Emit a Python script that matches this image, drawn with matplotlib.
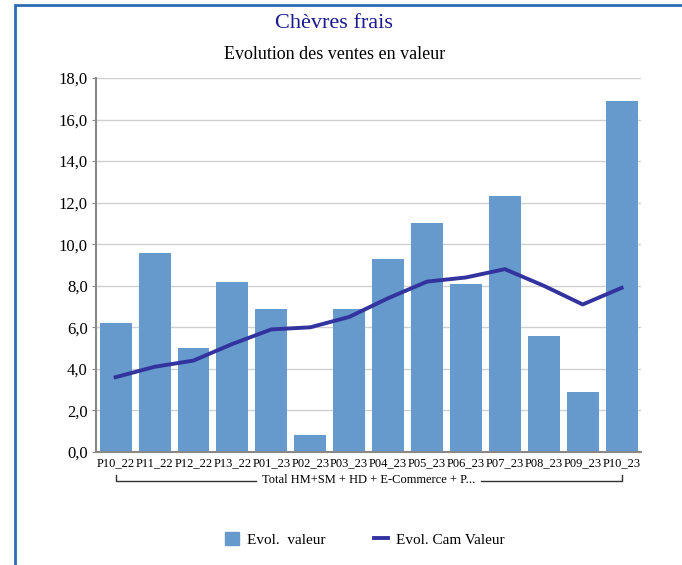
import matplotlib.pyplot as plt
from matplotlib.patches import Rectangle
from matplotlib.lines import Line2D
import numpy as np

plt.rcParams['font.family'] = ['Liberation Serif', 'DejaVu Serif']

# Data
periods = ['P10_22', 'P11_22', 'P12_22', 'P13_22', 'P01_23', 'P02_23', 'P03_23',
           'P04_23', 'P05_23', 'P06_23', 'P07_23', 'P08_23', 'P09_23', 'P10_23']
evol_valeur = [6.2, 9.6, 5.0, 8.2, 6.9, 0.8, 6.9, 9.3, 11.0, 8.1, 12.3, 5.6, 2.9, 16.9]
evol_cam = [3.6, 4.1, 4.4, 5.2, 5.9, 6.0, 6.5, 7.4, 8.2, 8.4, 8.8, 8.0, 7.1, 7.9]
group_label = 'Total HM+SM + HD + E-Commerce + P...'

bar_color = '#6699CC'
line_color = '#3333A0'

fig = plt.figure(figsize=(6.82, 5.65), dpi=100)
ax = fig.add_axes([0.141, 0.2, 0.799, 0.662])

x = np.arange(len(periods))
ax.bar(x, evol_valeur, width=0.82, color=bar_color, zorder=2)
ax.plot(x, evol_cam, color=line_color, linewidth=2.8, zorder=3)

ax.set_xlim(-0.5, len(periods) - 0.5)
ax.set_ylim(0, 18)
ax.set_yticks(np.arange(0, 18.1, 2))
ax.set_yticklabels([f'{v:.1f}'.replace('.', ',') for v in np.arange(0, 18.1, 2)],
                   fontsize=12)
ax.set_xticks(x)
ax.set_xticklabels(periods, fontsize=9)
ax.tick_params(axis='x', length=0, pad=4)
ax.tick_params(axis='y', length=3, color='#888888', pad=3)
ax.grid(axis='y', color='#d0d0d0', linewidth=1, zorder=0)
for s in ['top', 'right']:
    ax.spines[s].set_visible(False)
ax.spines['left'].set_color('#888888')
ax.spines['bottom'].set_color('#888888')
ax.spines['left'].set_linewidth(1.5)
ax.spines['bottom'].set_linewidth(1.5)

# category bracket under the tick labels
trans = ax.get_xaxis_transform()
yb, yt = -0.078, -0.062
x0, x1 = 0, len(periods) - 1
xm = (x0 + x1) / 2
gap = 2.9
ax.add_line(Line2D([x0, x0, xm - gap], [yt, yb, yb], transform=trans,
                   color='#333333', linewidth=1, clip_on=False))
ax.add_line(Line2D([xm + gap, x1, x1], [yb, yb, yt], transform=trans,
                   color='#333333', linewidth=1, clip_on=False))
ax.text(xm, yb + 0.002, group_label, transform=trans, ha='center', va='center',
        fontsize=9)

fig.text(0.49, 0.958, 'Chèvres frais', ha='center', va='center', fontsize=16,
         color='#1a1a8c')
fig.text(0.49, 0.904, 'Evolution des ventes en valeur', ha='center', va='center',
         fontsize=13, color='black')

handles = [Rectangle((0, 0), 1, 1, color=bar_color),
           Line2D([0], [0], color=line_color, linewidth=2.8)]
fig.legend(handles, ['Evol.  valeur', 'Evol. Cam Valeur'], loc='center',
           bbox_to_anchor=(0.535, 0.045), ncol=2, frameon=False, fontsize=11,
           handlelength=0.9, handleheight=0.9, columnspacing=3.2, handletextpad=0.5)

# blue frame (top and left edges visible)
fig.add_artist(Rectangle((15 / 682, -0.1), 1.2, 1.1 - 5 / 565,
                         transform=fig.transFigure, fill=False,
                         edgecolor='#2E6BB5', linewidth=2))

fig.savefig('out.png', dpi=100)
